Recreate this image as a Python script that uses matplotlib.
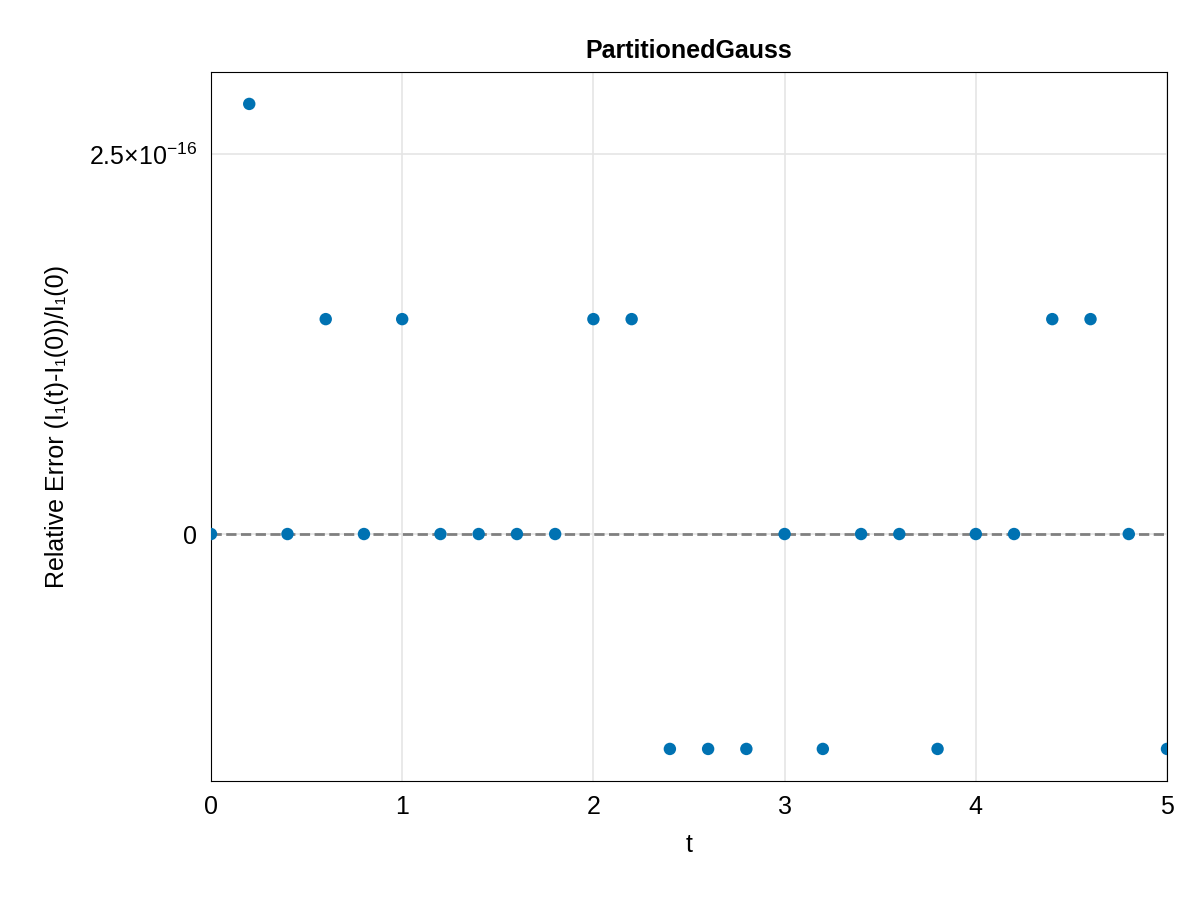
import matplotlib
matplotlib.use("Agg")
import matplotlib.pyplot as plt
import numpy as np

plt.rcParams['font.family'] = ['Liberation Sans', 'DejaVu Sans']
plt.rcParams['mathtext.fontset'] = 'custom'
plt.rcParams['mathtext.rm'] = 'Liberation Sans'
plt.rcParams['mathtext.it'] = 'Liberation Sans'

t = [0.0,0.2,0.4,0.6,0.8,1.0,1.2,1.4,1.6,1.8,2.0,2.2,2.4,2.6,2.8,3.0,3.2,3.4,3.6,3.8,4.0,4.2,4.4,4.6,4.8,5.0]
err_units = [0,2.83,0,1.414,0,1.414,0,0,0,0,1.414,1.414,-1.414,-1.414,-1.414,0,-1.414,0,0,-1.414,0,0,1.414,1.414,0,-1.414]
err = [v*1e-16 for v in err_units]
yticks = [0, 2.5e-16]
yticklabels = ["0", r"$\mathrm{2.5{\times}10^{-16}}$"]

fig = plt.figure(figsize=(12, 9), dpi=100)
ax = fig.add_axes([211/1200, 1-781/900, (1167-211)/1200, (781-72)/900])
ax.axhline(0, color='gray', ls='--', lw=2, zorder=1)
ax.scatter(t, err, s=80, color='#0072B2', zorder=3, edgecolors='none')
ax.set_xlim(0, 5)
ax.set_ylim(-1.625e-16, 3.04e-16)
ax.set_xticks([0,1,2,3,4,5])
ax.set_yticks(yticks)
ax.set_yticklabels(yticklabels)
ax.grid(True, color='#e5e5e5', lw=1.2)
ax.set_axisbelow(True)
ax.tick_params(labelsize=18, length=0, pad=10)
ax.set_xlabel('t', fontsize=18, labelpad=10)
ax.set_ylabel('Relative Error (I₁(t)-I₁(0))/I₁(0)', fontsize=18, labelpad=14)
ax.set_title('PartitionedGauss', fontsize=18, fontweight='bold', pad=10)
fig.savefig('out.png', dpi=100)
